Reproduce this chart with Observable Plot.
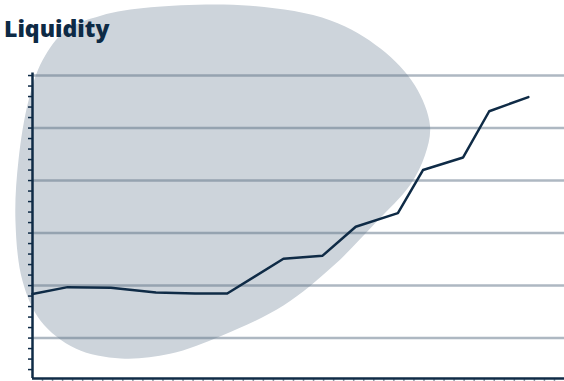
<!DOCTYPE html>
<html><head><meta charset="utf-8">
<script src="https://cdn.jsdelivr.net/npm/d3@7"></script>
<script src="https://cdn.jsdelivr.net/npm/@observablehq/plot@0.6"></script>
<style>
body{margin:0;background:#fff;}
#wrap{position:relative;width:564px;height:381px;overflow:hidden;}
#chart svg{display:block;}
#title{position:absolute;left:4px;top:14px;margin:0;font-family:"Open Sans",Lato,sans-serif;font-weight:800;font-size:23px;line-height:28px;color:#0d2a45;}
</style></head><body>
<div id="wrap"><div id="chart"></div><div id="title">Liquidity</div></div>
<script>
// Liquidity series (x in months, y in index units)
const months = [0, 3.5, 7.8, 12.3, 16.2, 19.4, 25.0, 28.9, 32.2, 36.4, 38.9, 42.9, 45.5, 49.4];
const liquidity = [18.4, 19.7, 19.6, 18.7, 18.5, 18.5, 25.1, 25.7, 31.2, 33.8, 42.0, 44.4, 53.2, 55.9];
// Background blob outline (data units)
const blobX = [6.8, 11.8, 21.7, 29.7, 34.7, 38.1, 39.6, 39.1, 37.6, 34.2, 30.0, 25.0, 18.9, 13.7, 8.8, 4.3, 0.8, -1.0, -1.7, -1.4, -0.4, 1.0, 3.3];
const blobY = [71.4, 73.0, 73.3, 70.5, 65.1, 58.1, 50.5, 44.8, 39.1, 32.0, 23.8, 16.2, 10.5, 7.0, 6.1, 8.0, 13.3, 20.9, 32.4, 43.8, 55.2, 62.9, 68.6];
const gridValues = [10, 20, 30, 40, 50, 60];
const yTicks = d3.range(4, 61, 2);
const xTicks = d3.range(1, 53, 1);
const yMin = 2.3, yMax = 60.2;

const line = months.map((m, i) => ({m, v: liquidity[i]}));
const blob = blobX.map((x, i) => ({x, y: blobY[i]}));
const navy = "#0f2b46";

const chart = Plot.plot({
  width: 564, height: 381,
  marginLeft: 32, marginRight: 0, marginTop: 74, marginBottom: 3,
  x: {domain: [0, 53], axis: null},
  y: {domain: [yMin, yMax], axis: null},
  style: {background: "transparent", overflow: "visible"},
  marks: [
    Plot.line(blob, {x: "x", y: "y", curve: "catmull-rom-closed", fill: "#cdd4db", stroke: "none"}),
    Plot.ruleY(gridValues, {stroke: "#5d7185", strokeOpacity: 0.5, strokeWidth: 2.5}),
    Plot.ruleX(xTicks, {y1: yMin, y2: yMin - 0.8, stroke: "#8d9aa7", strokeWidth: 1.5}),
    Plot.ruleY(yTicks, {x1: -0.4, x2: 0, stroke: navy, strokeWidth: 1.5}),
    Plot.ruleY([yMin], {stroke: navy, strokeWidth: 2.5}),
    Plot.ruleX([0], {stroke: navy, strokeWidth: 2.5, y1: yMin, y2: yMax + 0.3}),
    Plot.line(line, {x: "m", y: "v", stroke: navy, strokeWidth: 2.5})
  ]
});
document.getElementById("chart").appendChild(chart);
</script>
</body></html>
